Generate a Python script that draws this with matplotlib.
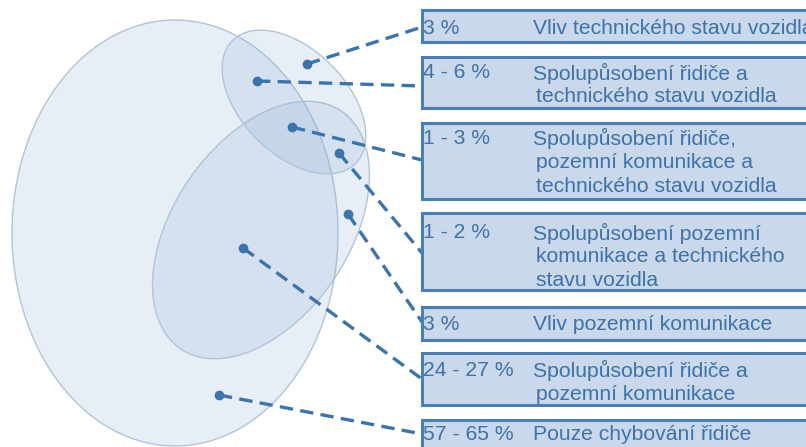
import matplotlib.pyplot as plt
from matplotlib.patches import Ellipse, Rectangle

plt.rcParams['font.family'] = ['Liberation Sans', 'DejaVu Sans']

# percentages and descriptions, one per box (top to bottom)
percents = ["3 %", "4 - 6 %", "1 - 3 %", "1 - 2 %", "3 %", "24 - 27 %", "57 - 65 %"]
descriptions = [
    ["Vliv technického stavu vozidla"],
    ["Spolupůsobení řidiče a", "technického stavu vozidla"],
    ["Spolupůsobení řidiče,", "pozemní komunikace a", "technického stavu vozidla"],
    ["Spolupůsobení pozemní", "komunikace a technického", "stavu vozidla"],
    ["Vliv pozemní komunikace"],
    ["Spolupůsobení řidiče a", "pozemní komunikace"],
    ["Pouze chybování řidiče"],
]

# layout (pixel coordinates, y downwards)
box_top = [10, 57, 123, 213, 307, 353, 420]
box_bottom = [42, 108, 199, 290, 340, 405, 460]
first_line_y = [28, 73, 138, 233, 325, 370, 435]
dots = [(307, 64), (257, 81), (292, 127), (339, 153), (348, 214), (243, 248), (219, 395)]
line_end_y = [27, 86, 160, 253, 322, 379, 434]

# sets: driver (big), road (medium), vehicle (small)
ellipses = [
    dict(xy=(175, 233), w=326, h=426, angle=0),
    dict(xy=(261, 230), w=287, h=176, angle=-56),
    dict(xy=(294, 102), w=174, h=105, angle=45),
]

blue = '#3b73ad'
text_blue = '#3d72ab'

fig = plt.figure(figsize=(8.06, 4.47), dpi=100)
ax = fig.add_axes([0, 0, 1, 1])
ax.set_xlim(0, 806)
ax.set_ylim(447, 0)
ax.axis('off')

for e in ellipses:
    ax.add_patch(Ellipse(e['xy'], e['w'], e['h'], angle=e['angle'],
                         facecolor=(0.55, 0.68, 0.84, 0.2),
                         edgecolor='#b0c4da', lw=1))

box_left = 422
for (dx, dy), ey in zip(dots, line_end_y):
    ax.plot([dx, box_left], [dy, ey], color=blue, lw=2.4,
            dashes=(4, 2.2), solid_capstyle='butt', zorder=3)
    ax.plot(dx, dy, 'o', color=blue, ms=6, zorder=4)

for i in range(len(percents)):
    ax.add_patch(Rectangle((box_left, box_top[i]), 420, box_bottom[i] - box_top[i],
                           facecolor='#c9d8ea', edgecolor='#4a7fb6', lw=2.2, zorder=5))
    ax.text(box_left + 1, first_line_y[i], percents[i], color=text_blue,
            fontsize=15.2, va='center', ha='left', zorder=6)
    for j, line in enumerate(descriptions[i]):
        x = 533 if j == 0 else 536
        ax.text(x, first_line_y[i] + 24 * j, line, color=text_blue,
                fontsize=15.2, va='center', ha='left', zorder=6)

fig.savefig('out.png', dpi=100)
